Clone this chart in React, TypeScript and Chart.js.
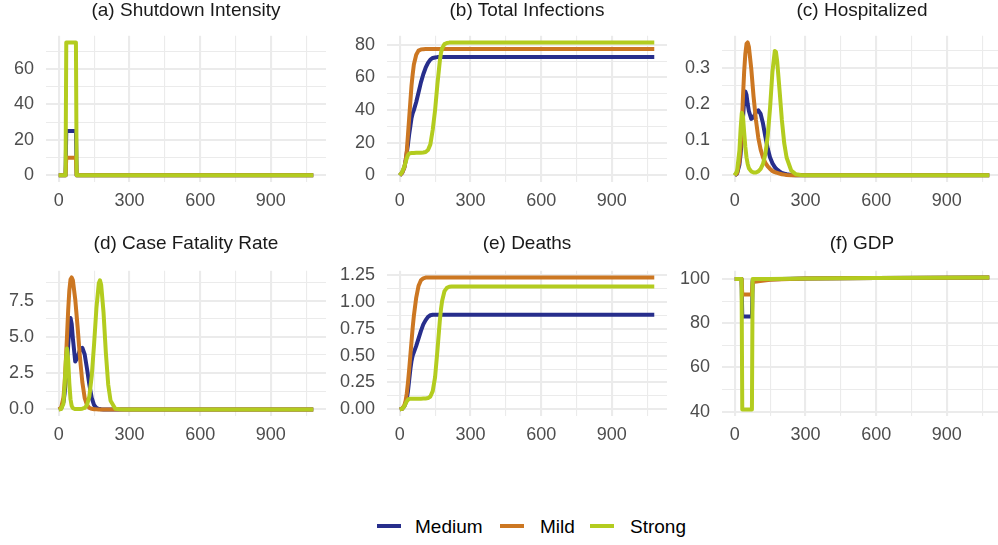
import React, { useEffect, useRef } from "react";
import { Chart, registerables } from "chart.js";

Chart.register(...registerables);

// ---------- data ----------
const seriesNames = ["Medium", "Mild", "Strong"];
const seriesColors = ["#272E8C", "#CC7722", "#B3CC1F"];

const days = [0, 10, 20, 25, 30, 35, 40, 45, 50, 55, 60, 70, 80, 90, 100, 110, 120, 130, 140, 150, 160, 170, 175, 180, 190, 200, 210, 220, 240, 260, 280, 300, 400, 600, 800, 1080];

// (a) Shutdown Intensity
const shutdownDays = [0, 29, 32, 73, 76, 1080];
const shutdownMedium = [0, 0, 25, 25, 0, 0];
const shutdownMild = [0, 0, 10, 10, 0, 0];
const shutdownStrong = [0, 0, 75, 75, 0, 0];

// (b) Total Infections
const infMedium = [0, 1.5, 5, 9, 14, 19, 25, 30, 35, 38, 40, 45, 51, 57, 62, 66, 69, 71, 72, 72.3, 72.5, 72.5, 72.5, 72.5, 72.5, 72.5, 72.5, 72.5, 72.5, 72.5, 72.5, 72.5, 72.5, 72.5, 72.5, 72.5];
const infMild = [0, 1.5, 5, 9, 15, 25, 35, 45, 55, 62, 68, 74, 76.5, 77.2, 77.4, 77.5, 77.5, 77.5, 77.5, 77.5, 77.5, 77.5, 77.5, 77.5, 77.5, 77.5, 77.5, 77.5, 77.5, 77.5, 77.5, 77.5, 77.5, 77.5, 77.5, 77.5];
const infStrong = [0, 2, 5.5, 8, 10.5, 12.5, 13.3, 13.6, 13.7, 13.7, 13.7, 13.8, 13.8, 13.9, 14, 14.3, 15.5, 19, 28, 40, 56, 70, 75, 78, 80.5, 81.2, 81.4, 81.5, 81.5, 81.5, 81.5, 81.5, 81.5, 81.5, 81.5, 81.5];

// (c) Hospitalized
const hospMedium = [0, 0.005, 0.03, 0.06, 0.1, 0.16, 0.21, 0.235, 0.225, 0.2, 0.18, 0.158, 0.163, 0.177, 0.182, 0.172, 0.145, 0.108, 0.075, 0.05, 0.034, 0.023, 0.019, 0.016, 0.011, 0.007, 0.005, 0.003, 0.001, 0, 0, 0, 0, 0, 0, 0];
const hospMild = [0, 0.006, 0.04, 0.08, 0.14, 0.22, 0.29, 0.34, 0.368, 0.372, 0.36, 0.3, 0.22, 0.155, 0.105, 0.072, 0.05, 0.035, 0.025, 0.018, 0.012, 0.009, 0.008, 0.007, 0.005, 0.003, 0.002, 0.001, 0, 0, 0, 0, 0, 0, 0, 0];
const hospStrong = [0, 0.012, 0.07, 0.13, 0.175, 0.165, 0.12, 0.08, 0.05, 0.032, 0.02, 0.011, 0.008, 0.008, 0.011, 0.018, 0.032, 0.06, 0.11, 0.19, 0.29, 0.348, 0.345, 0.32, 0.24, 0.155, 0.09, 0.05, 0.013, 0.003, 0.001, 0, 0, 0, 0, 0];

// (d) Case Fatality Rate
const cfrMedium = [0, 0.05, 0.5, 1.1, 2, 3, 4.4, 5.7, 6.3, 5.9, 4.9, 3.3, 3.6, 4.1, 4.25, 3.8, 2.8, 1.7, 0.8, 0.3, 0.1, 0.03, 0.02, 0.01, 0, 0, 0, 0, 0, 0, 0, 0, 0, 0, 0, 0];
const cfrMild = [0, 0.1, 0.8, 1.8, 3.3, 5, 6.8, 8.2, 8.95, 9.1, 8.9, 7.6, 5.7, 3.6, 1.9, 0.8, 0.3, 0.1, 0.04, 0.015, 0.005, 0, 0, 0, 0, 0, 0, 0, 0, 0, 0, 0, 0, 0, 0, 0];
const cfrStrong = [0, 0.02, 0.4, 1.6, 3.3, 4.2, 3.4, 1.8, 0.7, 0.25, 0.08, 0.02, 0.02, 0.03, 0.05, 0.1, 0.3, 0.9, 2.3, 4.5, 7, 8.7, 8.9, 8.6, 6.7, 3.9, 1.7, 0.6, 0.05, 0.01, 0, 0, 0, 0, 0, 0];

// (e) Deaths
const deathMedium = [0, 0.005, 0.03, 0.06, 0.1, 0.17, 0.27, 0.37, 0.45, 0.5, 0.53, 0.59, 0.66, 0.73, 0.79, 0.83, 0.86, 0.875, 0.88, 0.88, 0.88, 0.88, 0.88, 0.88, 0.88, 0.88, 0.88, 0.88, 0.88, 0.88, 0.88, 0.88, 0.88, 0.88, 0.88, 0.88];
const deathMild = [0, 0.005, 0.04, 0.08, 0.15, 0.25, 0.37, 0.5, 0.63, 0.76, 0.87, 1.04, 1.15, 1.2, 1.218, 1.225, 1.227, 1.227, 1.227, 1.227, 1.227, 1.227, 1.227, 1.227, 1.227, 1.227, 1.227, 1.227, 1.227, 1.227, 1.227, 1.227, 1.227, 1.227, 1.227, 1.227];
const deathStrong = [0, 0.005, 0.03, 0.055, 0.075, 0.09, 0.097, 0.1, 0.1, 0.1, 0.1, 0.1, 0.1, 0.1, 0.101, 0.102, 0.105, 0.12, 0.17, 0.3, 0.55, 0.82, 0.93, 1.01, 1.1, 1.13, 1.14, 1.143, 1.143, 1.143, 1.143, 1.143, 1.143, 1.143, 1.143, 1.143];

// (f) GDP
const gdpStrongDays = [0, 29, 32, 73, 76, 150, 300, 600, 1080];
const gdpStrong = [100, 100, 41, 41, 100, 100, 100.2, 100.4, 100.7];
const gdpMediumDays = [0, 29, 32, 73, 76, 100, 150, 300, 600, 1080];
const gdpMedium = [100, 100, 83, 83, 99.3, 99.6, 99.9, 100.2, 100.4, 100.7];
const gdpMildDays = [0, 29, 32, 73, 76, 100, 150, 200, 300, 600, 1080];
const gdpMild = [100, 100, 93, 93, 98.6, 99, 99.6, 99.9, 100.2, 100.4, 100.7];

// ticks
const xMajor = [0, 300, 600, 900];
const xMinor = [150, 450, 750, 1050];
const aMajor = [0, 20, 40, 60];
const aMinor = [10, 30, 50, 70];
const bMajor = [0, 20, 40, 60, 80];
const bMinor = [10, 30, 50, 70];
const cMajor = [0, 0.1, 0.2, 0.3];
const cLabels = ["0.0", "0.1", "0.2", "0.3"];
const cMinor = [0.05, 0.15, 0.25, 0.35];
const dMajor = [0, 2.5, 5, 7.5];
const dLabels = ["0.0", "2.5", "5.0", "7.5"];
const dMinor = [1.25, 3.75, 6.25, 8.75];
const eMajor = [0, 0.25, 0.5, 0.75, 1, 1.25];
const eLabels = ["0.00", "0.25", "0.50", "0.75", "1.00", "1.25"];
const eMinor = [0.125, 0.375, 0.625, 0.875, 1.125];
const fMajor = [40, 60, 80, 100];
const fMinor = [50, 70, 90];

// ---------- layout ----------
const COL_L = [46, 387, 722];
const PANEL_W = 280;
const ROW_T = [25, 260];
const ROW_H = [157, 156];
const WY = 50;
const PT = 12;
const PR = 8;
const HX = 34;
const FONT = "'Liberation Sans', Arial, Helvetica, sans-serif";
const GRID = "#EBEBEB";

type Series = { x: number[]; y: number[] };
type Panel = {
  title: string;
  col: number;
  row: number;
  series: Series[];
  yMajor: number[];
  yLabels: string[];
  yMinor: number[];
};

const panels: Panel[] = [
  {
    title: "(a) Shutdown Intensity", col: 0, row: 0,
    series: [
      { x: shutdownDays, y: shutdownMedium },
      { x: shutdownDays, y: shutdownMild },
      { x: shutdownDays, y: shutdownStrong },
    ],
    yMajor: aMajor, yLabels: aMajor.map(String), yMinor: aMinor,
  },
  {
    title: "(b) Total Infections", col: 1, row: 0,
    series: [
      { x: days, y: infMedium },
      { x: days, y: infMild },
      { x: days, y: infStrong },
    ],
    yMajor: bMajor, yLabels: bMajor.map(String), yMinor: bMinor,
  },
  {
    title: "(c) Hospitalized", col: 2, row: 0,
    series: [
      { x: days, y: hospMedium },
      { x: days, y: hospMild },
      { x: days, y: hospStrong },
    ],
    yMajor: cMajor, yLabels: cLabels, yMinor: cMinor,
  },
  {
    title: "(d) Case Fatality Rate", col: 0, row: 1,
    series: [
      { x: days, y: cfrMedium },
      { x: days, y: cfrMild },
      { x: days, y: cfrStrong },
    ],
    yMajor: dMajor, yLabels: dLabels, yMinor: dMinor,
  },
  {
    title: "(e) Deaths", col: 1, row: 1,
    series: [
      { x: days, y: deathMedium },
      { x: days, y: deathMild },
      { x: days, y: deathStrong },
    ],
    yMajor: eMajor, yLabels: eLabels, yMinor: eMinor,
  },
  {
    title: "(f) GDP", col: 2, row: 1,
    series: [
      { x: gdpMediumDays, y: gdpMedium },
      { x: gdpMildDays, y: gdpMild },
      { x: gdpStrongDays, y: gdpStrong },
    ],
    yMajor: fMajor, yLabels: fMajor.map(String), yMinor: fMinor,
  },
];

function PanelChart({ p }: { p: Panel }) {
  const ref = useRef<HTMLCanvasElement>(null);
  const H = ROW_H[p.row];
  const cw = WY + PANEL_W + PR;
  const ch = PT + H + HX;
  const left = COL_L[p.col] - WY;
  const top = ROW_T[p.row] - PT;

  useEffect(() => {
    const ys = p.series.flatMap((s) => s.y);
    const xs = p.series.flatMap((s) => s.x);
    const ylo = Math.min(...ys), yhi = Math.max(...ys);
    const xlo = Math.min(...xs), xhi = Math.max(...xs);
    const ypad = (yhi - ylo) * 0.05;
    const xpad = (xhi - xlo) * 0.05;
    const yMin = ylo - ypad, yMax = yhi + ypad;
    const xMin = xlo - xpad, xMax = xhi + xpad;
    const yTicks = [...p.yMajor, ...p.yMinor].filter((v) => v >= yMin && v <= yMax).sort((a, b) => a - b);
    const xTicks = [...xMajor, ...xMinor].filter((v) => v >= xMin && v <= xMax).sort((a, b) => a - b);

    const tickFont = { family: FONT, size: 18 };
    const chart = new Chart(ref.current as HTMLCanvasElement, {
      type: "line",
      data: {
        datasets: p.series.map((s, i) => ({
          label: seriesNames[i],
          data: s.x.map((d, j) => ({ x: d, y: s.y[j] })),
          borderColor: seriesColors[i],
          backgroundColor: seriesColors[i],
          borderWidth: 4,
          pointRadius: 0,
          tension: 0,
          fill: false,
          borderJoinStyle: "round",
          order: 3 - i,
        })),
      },
      options: {
        animation: false,
        responsive: false,
        maintainAspectRatio: false,
        devicePixelRatio: 1,
        layout: { padding: { left: 0, right: PR, top: PT, bottom: 0 } },
        plugins: {
          legend: { display: false },
          tooltip: { enabled: false },
          title: { display: false },
        },
        scales: {
          x: {
            type: "linear",
            min: xMin,
            max: xMax,
            afterBuildTicks: (s: any) => {
              s.ticks = xTicks.map((v) => ({ value: v }));
            },
            afterFit: (s: any) => {
              s.height = HX;
            },
            grid: {
              color: GRID,
              lineWidth: (ctx: any) => (ctx.tick && xMajor.includes(ctx.tick.value) ? 2.1 : 1.1),
              drawTicks: false,
            },
            border: { display: false },
            ticks: {
              autoSkip: false,
              maxRotation: 0,
              padding: 8,
              color: "#4D4D4D",
              font: tickFont,
              callback: (v: any) => (xMajor.includes(v) ? String(v) : ""),
            },
          },
          y: {
            type: "linear",
            min: yMin,
            max: yMax,
            afterBuildTicks: (s: any) => {
              s.ticks = yTicks.map((v) => ({ value: v }));
            },
            afterFit: (s: any) => {
              s.width = WY;
            },
            grid: {
              color: GRID,
              lineWidth: (ctx: any) => (ctx.tick && p.yMajor.includes(ctx.tick.value) ? 2.1 : 1.1),
              drawTicks: false,
            },
            border: { display: false },
            ticks: {
              autoSkip: false,
              padding: 12,
              color: "#4D4D4D",
              font: tickFont,
              callback: (v: any) => {
                const k = p.yMajor.indexOf(v);
                return k >= 0 ? p.yLabels[k] : "";
              },
            },
          },
        },
      } as any,
    });
    return () => chart.destroy();
  }, []);

  return (
    <>
      <canvas
        ref={ref}
        width={cw}
        height={ch}
        style={{ position: "absolute", left, top, width: cw, height: ch }}
      />
      <div
        style={{
          position: "absolute",
          left: COL_L[p.col],
          width: PANEL_W,
          top: p.row === 0 ? 0 : 233,
          textAlign: "center",
          font: `19px ${FONT}`,
          lineHeight: "19px",
          color: "#1A1A1A",
          whiteSpace: "nowrap",
        }}
      >
        {p.title}
      </div>
    </>
  );
}

const legendKeyX = [377, 500, 590];
const legendTextX = [415, 540, 630];

export default function App() {
  return (
    <div
      style={{
        position: "fixed",
        left: 0,
        top: 0,
        width: 998,
        height: 545,
        overflow: "hidden",
        background: "#ffffff",
      }}
    >
      {panels.map((p) => (
        <PanelChart key={p.title} p={p} />
      ))}
      {seriesNames.map((n, i) => (
        <React.Fragment key={n}>
          <div
            style={{
              position: "absolute",
              left: legendKeyX[i],
              top: 524,
              width: 24,
              height: 3.5,
              background: seriesColors[i],
            }}
          />
          <div
            style={{
              position: "absolute",
              left: legendTextX[i],
              top: 517,
              font: `19px ${FONT}`,
              lineHeight: "19px",
              color: "#000000",
              whiteSpace: "nowrap",
            }}
          >
            {n}
          </div>
        </React.Fragment>
      ))}
    </div>
  );
}
